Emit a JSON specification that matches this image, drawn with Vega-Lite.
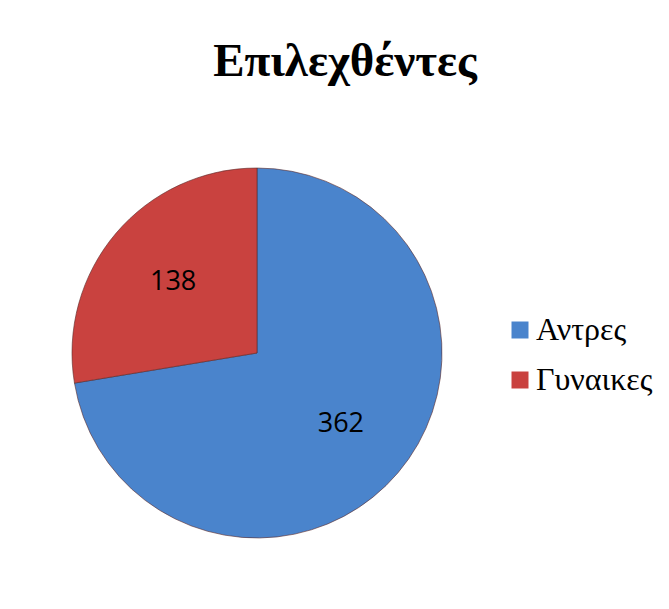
{
  "$schema": "https://vega.github.io/schema/vega-lite/v6.json",
  "width": 370,
  "height": 370,
  "autosize": {"type": "none"},
  "padding": {"left": 72, "top": 168, "right": 227, "bottom": 71},
  "background": "white",
  "config": {"view": {"stroke": null}},
  "title": {
    "text": "Επιλεχθέντες",
    "font": "Liberation Serif",
    "fontSize": 47,
    "fontWeight": "bold",
    "color": "black",
    "anchor": "middle",
    "frame": "group",
    "dx": 88,
    "dy": -77
  },
  "data": {
    "values": [
      {"category": "Αντρες", "value": 362},
      {"category": "Γυναικες", "value": 138}
    ]
  },
  "encoding": {
    "theta": {"field": "value", "type": "quantitative", "stack": true},
    "order": {"field": "value", "type": "quantitative", "sort": "descending"}
  },
  "layer": [
    {
      "mark": {"type": "arc", "outerRadius": 185, "stroke": "#5a2a2a", "strokeWidth": 0.6},
      "encoding": {
        "color": {
          "field": "category",
          "type": "nominal",
          "sort": ["Αντρες", "Γυναικες"],
          "scale": {"domain": ["Αντρες", "Γυναικες"], "range": ["#4A84CC", "#C9423F"]},
          "legend": {
            "title": null,
            "orient": "none",
            "legendX": 432,
            "legendY": 146,
            "symbolType": "square",
            "symbolSize": 289,
            "symbolStrokeWidth": 0,
            "labelFont": "Liberation Serif",
            "labelFontSize": 32,
            "labelColor": "black",
            "rowPadding": 18,
            "labelOffset": 0
          }
        }
      }
    },
    {
      "mark": {"type": "text", "radius": 110, "font": "Open Sans", "fontSize": 27, "color": "black"},
      "encoding": {
        "detail": {"field": "category", "type": "nominal"},
        "text": {"field": "value", "type": "quantitative"}
      }
    }
  ]
}
